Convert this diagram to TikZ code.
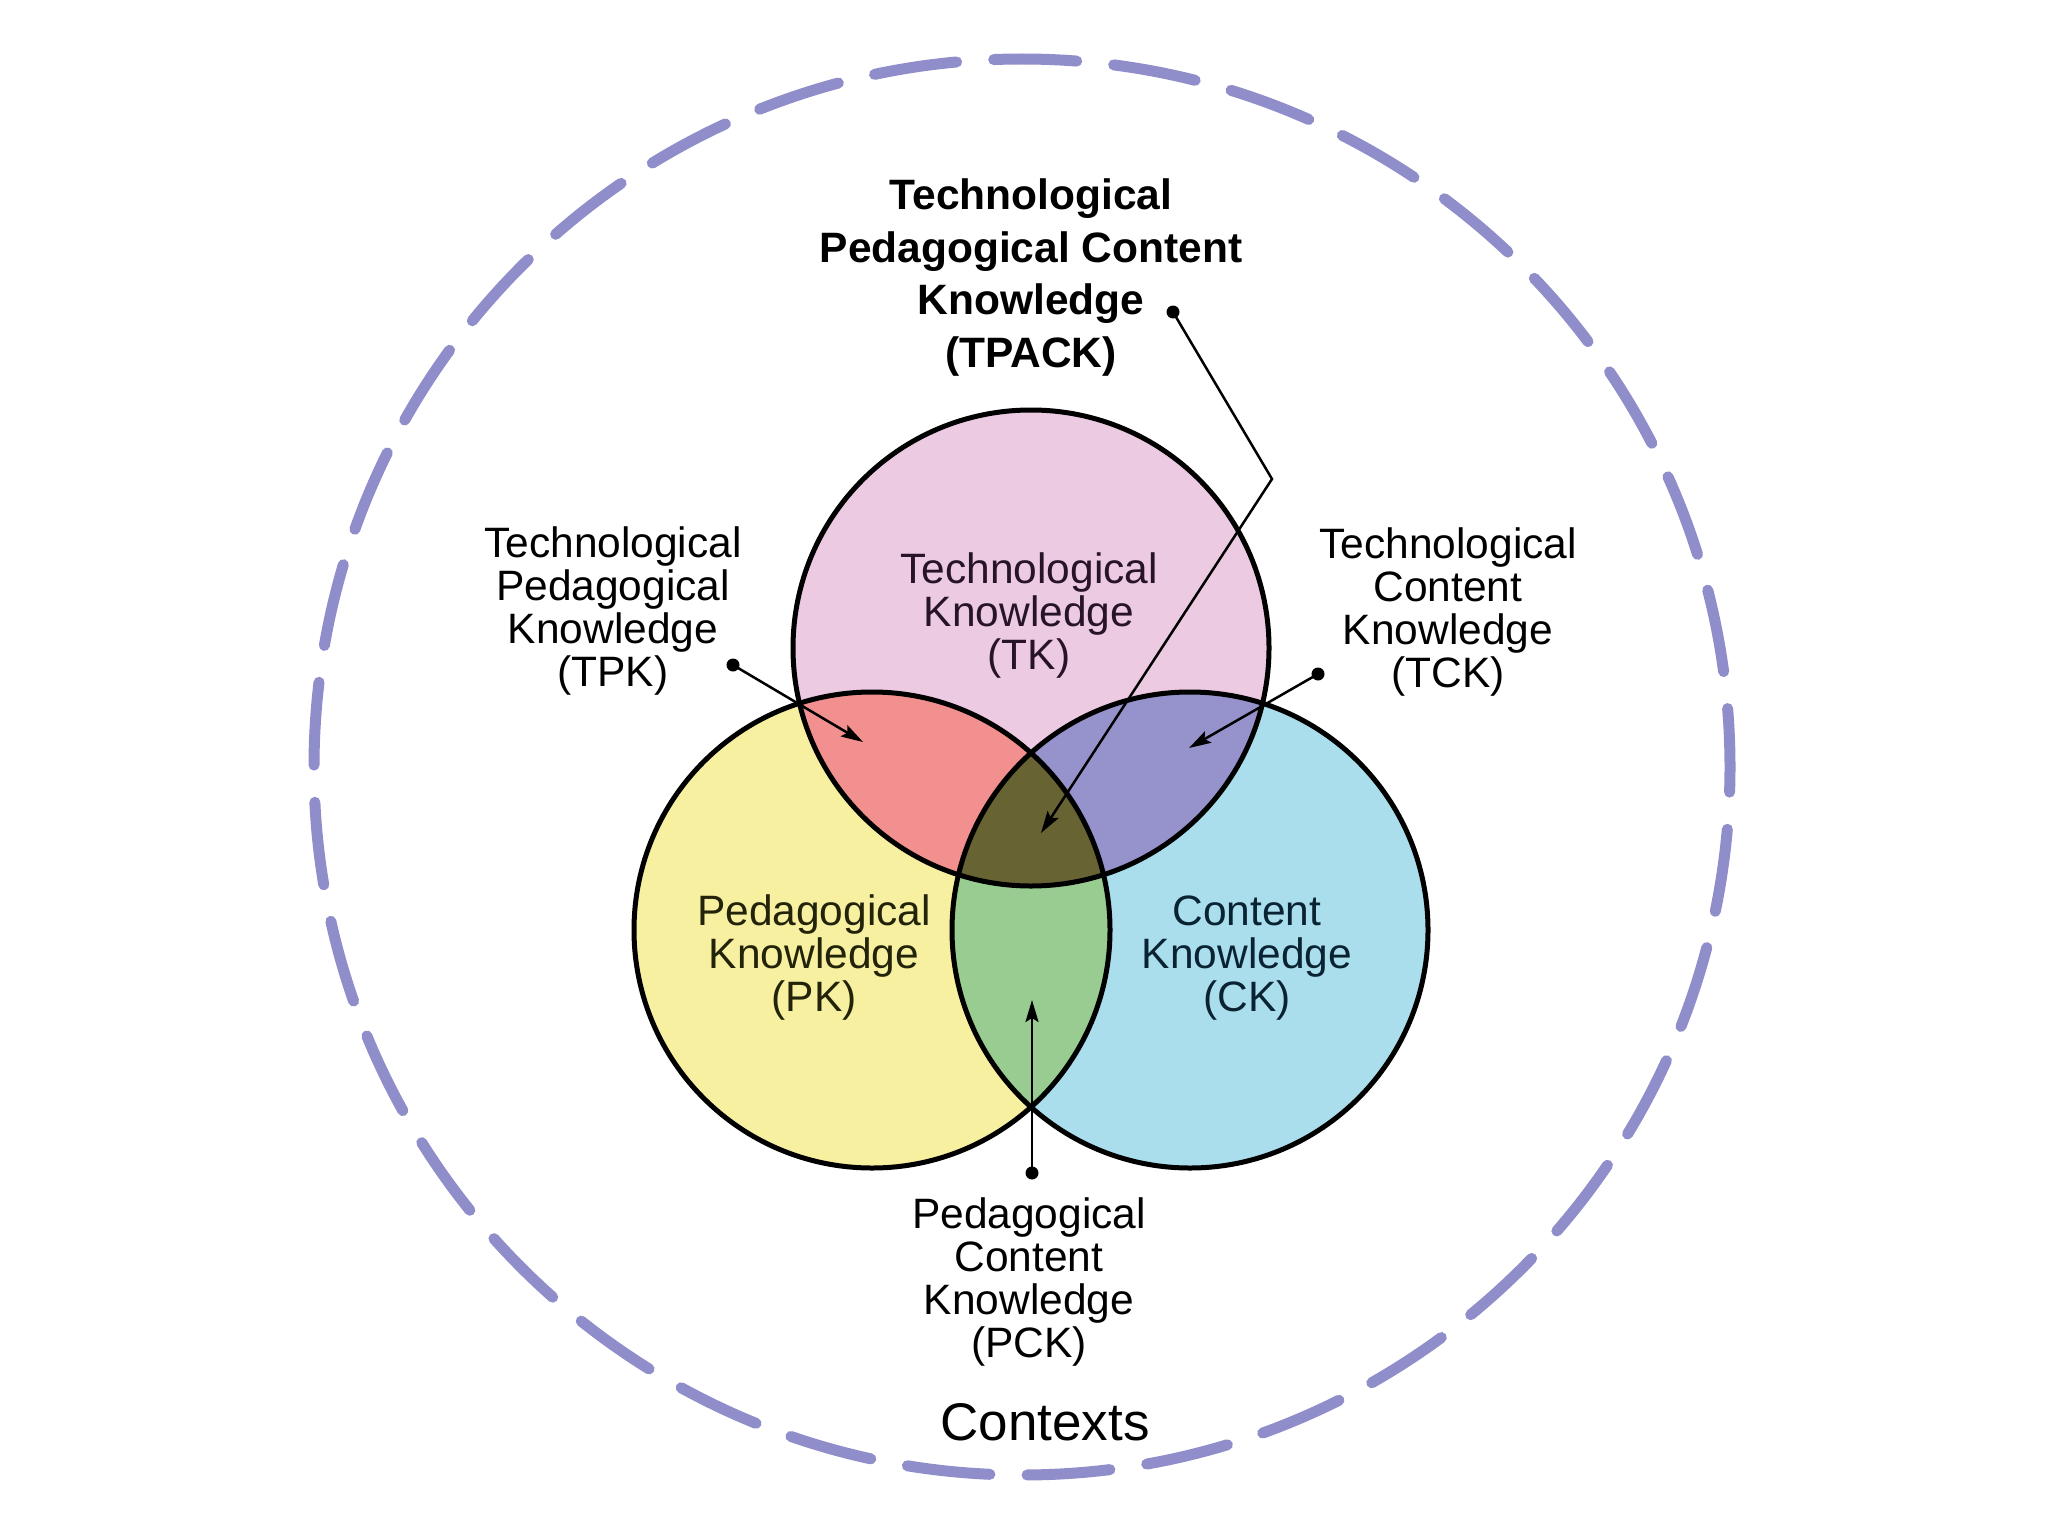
\documentclass[tikz,border=0pt]{standalone}
\usepackage{fontspec}
\setmainfont{Liberation Sans}
\usetikzlibrary{arrows.meta}
\definecolor{tkfill}{RGB}{236,202,226}
\definecolor{pkfill}{RGB}{246,240,160}
\definecolor{ckfill}{RGB}{170,222,236}
\definecolor{tpkfill}{RGB}{242,143,143}
\definecolor{tckfill}{RGB}{150,147,204}
\definecolor{pckfill}{RGB}{153,204,145}
\definecolor{allfill}{RGB}{104,99,51}
\definecolor{ctxline}{RGB}{143,141,202}
\definecolor{tktext}{RGB}{40,20,40}
\definecolor{pktext}{RGB}{35,35,10}
\definecolor{cktext}{RGB}{10,35,50}
\begin{document}
\begin{tikzpicture}[x=1pt,y=-1pt,
  venn/.style={circle, minimum size=476pt, inner sep=0pt, draw=black, line width=5pt},
  lbl/.style={anchor=base, align=center, inner sep=0pt, font=\fontsize{42.5}{43}\selectfont},
  titlelbl/.style={anchor=base, align=center, inner sep=0pt, font=\fontsize{42.5}{52.5}\selectfont\bfseries},
  dotn/.style={circle, fill=black, minimum size=13pt, inner sep=0pt},
  conn/.style={line width=2.5pt, -{Stealth[length=22pt,width=13pt,inset=4pt]}},
  ctx/.style={draw=ctxline, line width=11pt, line cap=round, dash pattern=on 83pt off 37.23pt, dash phase=24.5pt}]
\useasboundingbox[fill=white] (0,0) rectangle (2048,1536);

% outer context circle
\coordinate (ctxc) at (1022,767);
\draw[ctx] (ctxc) circle[radius=708pt];

% centres
\coordinate (tkc) at (1031,648);
\coordinate (pkc) at (872,930);
\coordinate (ckc) at (1190,930);

% base fills
\fill[tkfill] (tkc) circle[radius=238pt];
\fill[pkfill] (pkc) circle[radius=238pt];
\fill[ckfill] (ckc) circle[radius=238pt];
% pairwise intersections
\begin{scope}
  \clip (tkc) circle[radius=238pt];
  \fill[tpkfill] (pkc) circle[radius=238pt];
  \fill[tckfill] (ckc) circle[radius=238pt];
\end{scope}
\begin{scope}
  \clip (pkc) circle[radius=238pt];
  \fill[pckfill] (ckc) circle[radius=238pt];
\end{scope}
\begin{scope}
  \clip (tkc) circle[radius=238pt];
  \clip (pkc) circle[radius=238pt];
  \fill[allfill] (ckc) circle[radius=238pt];
\end{scope}

% outlines
\node[venn] (tk) at (tkc) {};
\node[venn] (pk) at (pkc) {};
\node[venn] (ck) at (ckc) {};

% labels inside circles (anchor = baseline of last line)
\node[lbl, text=tktext] (tklbl) at (1029,669) {Technological\\Knowledge\\(TK)};
\node[lbl, text=pktext] (pklbl) at (814,1011) {Pedagogical\\Knowledge\\(PK)};
\node[lbl, text=cktext] (cklbl) at (1247,1011) {Content\\Knowledge\\(CK)};

% outside labels
\node[lbl] (tpklbl) at (613,686) {Technological\\Pedagogical\\Knowledge\\(TPK)};
\node[lbl] (tcklbl) at (1448,687) {Technological\\Content\\Knowledge\\(TCK)};
\node[lbl] (pcklbl) at (1029,1357) {Pedagogical\\Content\\Knowledge\\(PCK)};
\node[titlelbl] (tpacklbl) at (1031,367) {Technological\\Pedagogical Content\\Knowledge\\(TPACK)};
\node[anchor=base, inner sep=0pt, font=\fontsize{53}{60}\selectfont] (ctxlbl) at (1045,1440) {Contexts};

% connectors
\node[dotn] (tpkdot) at (733,665) {};
\coordinate (tpktip) at (863,742);
\draw[conn] (tpkdot.center) -- (tpktip);

\node[dotn] (tckdot) at (1318,674) {};
\coordinate (tcktip) at (1189,748);
\draw[conn] (tckdot.center) -- (tcktip);

\node[dotn] (pckdot) at (1032,1173) {};
\coordinate (pcktip) at (1032,1000);
\draw[conn] (pckdot.center) -- (pcktip);

\node[dotn] (tpackdot) at (1173,312) {};
\coordinate (tpackbend) at (1272,479);
\coordinate (tpacktip) at (1041,833);
\draw[conn] (tpackdot.center) -- (tpackbend) -- (tpacktip);
\end{tikzpicture}
\end{document}
